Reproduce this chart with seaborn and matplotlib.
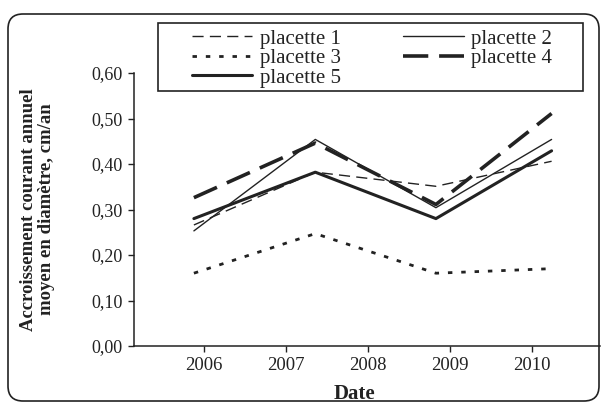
import matplotlib
matplotlib.use("Agg")
import matplotlib.pyplot as plt
import seaborn as sns
from matplotlib.patches import FancyBboxPatch, Rectangle
from matplotlib.ticker import FuncFormatter

# ---- data ----
dates = [2005.88, 2007.36, 2008.83, 2010.24]
placette1 = [0.266, 0.382, 0.351, 0.406]
placette2 = [0.253, 0.454, 0.304, 0.454]
placette3 = [0.160, 0.247, 0.160, 0.170]
placette4 = [0.326, 0.446, 0.311, 0.511]
placette5 = [0.280, 0.382, 0.280, 0.429]
names = ["placette 1", "placette 2", "placette 3", "placette 4", "placette 5"]
x_ticks = [2006, 2007, 2008, 2009, 2010]
y_ticks = [0.0, 0.1, 0.2, 0.3, 0.4, 0.5, 0.6]

sns.set_theme(style="ticks")
plt.rcParams['font.family'] = ['Liberation Serif', 'DejaVu Serif']

ink = '#222222'
W, H = 602, 403
fig = plt.figure(figsize=(W / 100, H / 100), dpi=100)
fig.patch.set_facecolor('white')
ax = fig.add_axes([134 / W, 57 / H, 466 / W, 273 / H])

styles = {
    "placette 1": dict(lw=1.0, ls=(0, (8, 4.5))),
    "placette 2": dict(lw=1.0, ls='-'),
    "placette 3": dict(lw=2.0, ls=(0, (1.6, 3.2))),
    "placette 4": dict(lw=2.6, ls=(0, (7, 3))),
    "placette 5": dict(lw=2.2, ls='-'),
}
series = [placette1, placette2, placette3, placette4, placette5]
handles = {}
for name, vals in zip(names, series):
    st = styles[name]
    sns.lineplot(x=dates, y=vals, ax=ax, color=ink, linewidth=st['lw'],
                 linestyle=st['ls'], legend=False)
    line = ax.lines[-1]
    line.set_label(name)
    handles[name] = line

ax.set_xlim(2005.15, 2010.83)
ax.set_ylim(0, 0.6)
ax.set_xticks(x_ticks)
ax.set_xticklabels([str(t) for t in x_ticks])
ax.set_yticks(y_ticks)
ax.yaxis.set_major_formatter(FuncFormatter(lambda v, p: f"{v:.2f}".replace('.', ',')))

for s in ['top', 'right']:
    ax.spines[s].set_visible(False)
for s in ['left', 'bottom']:
    ax.spines[s].set_color(ink)
    ax.spines[s].set_linewidth(1.1)
ax.tick_params(axis='both', direction='out', length=4, width=1.0, color=ink,
               labelsize=13.5, labelcolor=ink, pad=4)
ax.tick_params(axis='y', labelsize=13)
ax.patch.set_alpha(0)

ax.set_xlabel("Date", fontsize=15, fontweight='bold', color=ink, va='top')
ax.xaxis.set_label_coords(0.474, -0.139)
ax.set_ylabel("Accroissement courant annuel\nmoyen en diamètre, cm/an",
              fontsize=13.5, fontweight='bold', color=ink, linespacing=1.05)
ax.yaxis.set_label_coords(-0.1695, 0.5)

# legend (row-major order in 2 columns)
order = ["placette 1", "placette 3", "placette 5", "placette 2", "placette 4"]
leg = fig.legend([handles[n] for n in order], order, ncol=2, loc='upper left',
                 bbox_to_anchor=(192 / W, 1 - 29 / H), bbox_transform=fig.transFigure,
                 frameon=False, fontsize=15, handlelength=2.9, handletextpad=0.35,
                 columnspacing=3.0, labelspacing=0.0, borderpad=0, borderaxespad=0,
                 labelcolor=ink)
fig.add_artist(Rectangle((158 / W, (H - 91) / H), (583 - 158) / W, 68 / H,
                         transform=fig.transFigure, fill=False, ec=ink, lw=1.2))

# outer rounded frame
fig.add_artist(FancyBboxPatch((0.08, 0.02), 5.91, 3.87,
                              boxstyle="round,pad=0,rounding_size=0.15",
                              transform=fig.dpi_scale_trans, fill=False,
                              ec=ink, lw=1.2))

fig.savefig("out.png", dpi=100)
